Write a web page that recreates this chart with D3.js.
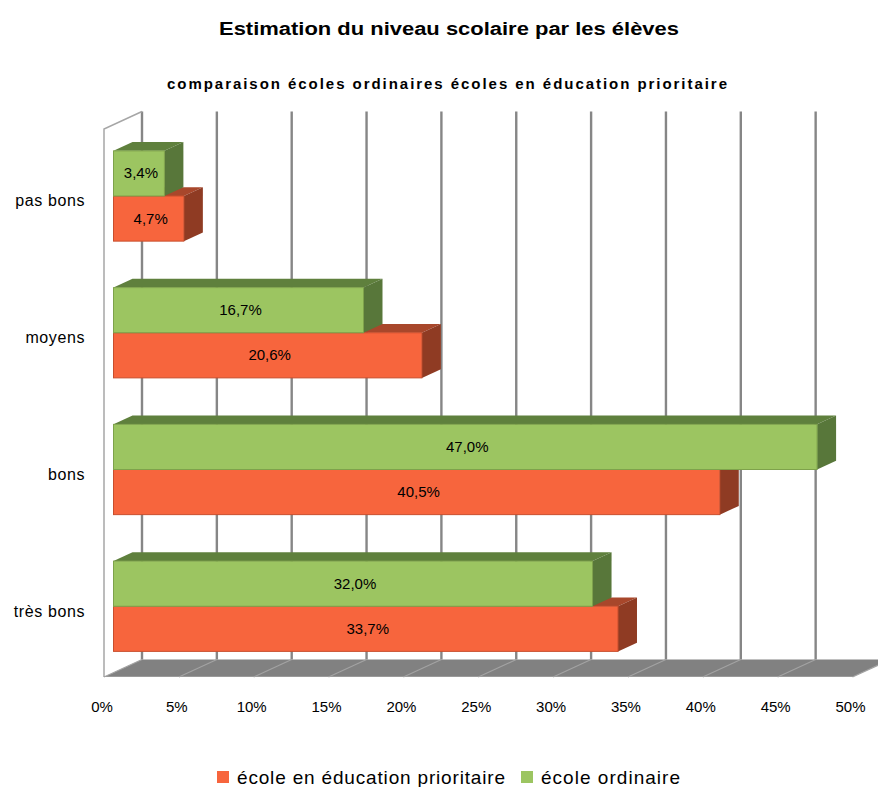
<!DOCTYPE html>
<html lang="fr">
<head>
<meta charset="utf-8">
<title>Estimation du niveau scolaire par les élèves</title>
<script src="https://cdn.jsdelivr.net/npm/d3@7"></script>
<style>
  html, body { margin: 0; padding: 0; background: #ffffff; }
  svg { display: block; font-family: "Liberation Sans", Arial, sans-serif; }
</style>
</head>
<body>
<svg id="chart" width="878" height="787"></svg>
<script>
// Categories, top to bottom
const categories = ["pas bons", "moyens", "bons", "très bons"];
// Series (percent of pupils)
const seriesNames = ["école en éducation prioritaire", "école ordinaire"];
const prioritaire = [4.7, 20.6, 40.5, 33.7];
const ordinaire = [3.4, 16.7, 47.0, 32.0];
const tickValues = [0, 5, 10, 15, 20, 25, 30, 35, 40, 45, 50];

const colors = {
  prioritaire: { front: "#f7653d", side: "#8f3b23", top: "#a8472b", edge: "#c84e2d" },
  ordinaire:   { front: "#9cc561", side: "#58773a", top: "#5f803d", edge: "#7ea24b" }
};

const svg = d3.select("#chart");

// Front plane geometry plus a depth vector for the oblique 3D look
const DX = 38, DY = -17.5;
const yTop = 129, yFloor = 677;
const x = d3.scaleLinear().domain([0, 50]).range([104, 852.5]);
const y = d3.scaleBand().domain(categories).range([132, 679])
  .paddingInner(0.34).paddingOuter(0.17);
const ySeries = d3.scaleBand().domain(["ordinaire", "prioritaire"]).range([0, y.bandwidth()]);

// Project a point (value, front-plane y, depth 0..1) to the screen
const P = (v, yy, t) => [x(v) + DX * t, yy + DY * t];
const poly = pts => "M" + pts.map(p => p.join(",")).join("L") + "Z";

// Back wall
svg.append("path")
  .attr("d", poly([P(0, yTop, 1), P(50, yTop, 1), P(50, yFloor, 1), P(0, yFloor, 1)]))
  .attr("fill", "#ffffff");

// Vertical gridlines on the back wall
svg.append("g").selectAll("line").data(tickValues).join("line")
  .attr("x1", d => P(d, yTop, 1)[0]).attr("x2", d => P(d, yFloor, 1)[0])
  .attr("y1", P(0, yTop, 1)[1]).attr("y2", P(0, yFloor, 1)[1])
  .attr("stroke", "#868686").attr("stroke-width", 2.4);

// Left side wall outline
svg.append("path")
  .attr("d", `M${P(0, yFloor, 0)}L${P(0, yTop, 0)}L${P(0, yTop, 1)}`)
  .attr("fill", "none").attr("stroke", "#a6a6a6").attr("stroke-width", 1.5);

// Floor
svg.append("path")
  .attr("d", poly([P(0, yFloor, 0), P(50, yFloor, 0), P(50, yFloor, 1), P(0, yFloor, 1)]))
  .attr("fill", "#818181");
svg.append("line")
  .attr("x1", P(0, yFloor, 0)[0]).attr("x2", P(50, yFloor, 0)[0])
  .attr("y1", yFloor - 0.5).attr("y2", yFloor - 0.5)
  .attr("stroke", "#9a9a9a").attr("stroke-width", 1);
svg.append("g").selectAll("line").data(tickValues).join("line")
  .attr("x1", d => P(d, yFloor, 0)[0]).attr("y1", d => P(d, yFloor, 0)[1])
  .attr("x2", d => P(d, yFloor, 1)[0]).attr("y2", d => P(d, yFloor, 1)[1])
  .attr("stroke", "#a3a3a3").attr("stroke-width", 1.2);

// Bars: lower series first so the upper bar overlaps its top face
const t0 = 0.25, t1 = 0.75;
const bars = [];
categories.forEach((c, i) => {
  bars.push({ cat: c, key: "prioritaire", value: prioritaire[i] });
  bars.push({ cat: c, key: "ordinaire", value: ordinaire[i] });
});

const gBars = svg.append("g");
bars.forEach(b => {
  const col = colors[b.key];
  const y0 = y(b.cat) + ySeries(b.key);
  const y1 = y0 + ySeries.bandwidth();
  const g = gBars.append("g");
  // top face
  g.append("path")
    .attr("d", poly([P(0, y0, t0), P(0, y0, t1), P(b.value, y0, t1), P(b.value, y0, t0)]))
    .attr("fill", col.top);
  // end face
  g.append("path")
    .attr("d", poly([P(b.value, y0, t0), P(b.value, y0, t1), P(b.value, y1, t1), P(b.value, y1, t0)]))
    .attr("fill", col.side);
  // front face
  const [fx0, fy0] = P(0, y0, t0);
  const [fx1, fy1] = P(b.value, y1, t0);
  g.append("rect")
    .attr("x", fx0).attr("y", fy0)
    .attr("width", fx1 - fx0).attr("height", fy1 - fy0)
    .attr("fill", col.front)
    .attr("stroke", col.edge).attr("stroke-width", 1);
  // value label
  g.append("text")
    .attr("x", (fx0 + fx1) / 2 + 2).attr("y", (fy0 + fy1) / 2 + 5)
    .attr("text-anchor", "middle")
    .attr("font-size", 15).attr("fill", "#000")
    .text(d3.format(".1f")(b.value).replace(".", ",") + "%");
});

// Category labels
svg.append("g").selectAll("text").data(categories).join("text")
  .attr("x", 85).attr("y", d => y(d) + y.bandwidth() / 2 + 6)
  .attr("text-anchor", "end").attr("font-size", 16).attr("letter-spacing", 0.6)
  .attr("fill", "#000").text(d => d);

// Value axis labels along the front edge of the floor
svg.append("g").selectAll("text").data(tickValues).join("text")
  .attr("x", d => x(d) - 2).attr("y", 712)
  .attr("text-anchor", "middle").attr("font-size", 15).attr("fill", "#000")
  .text(d => d + "%");

// Titles
svg.append("text").attr("x", 449).attr("y", 35).attr("text-anchor", "middle")
  .attr("font-size", 18).attr("font-weight", "bold")
  .attr("textLength", 460).attr("lengthAdjust", "spacingAndGlyphs")
  .text("Estimation du niveau scolaire par les élèves");
svg.append("text").attr("x", 447).attr("y", 89).attr("text-anchor", "middle")
  .attr("font-size", 15).attr("font-weight", "bold")
  .attr("textLength", 560).attr("lengthAdjust", "spacing")
  .text("comparaison écoles ordinaires écoles en éducation prioritaire");

// Legend
const legend = [
  { name: seriesNames[0], color: colors.prioritaire.front, x: 217, w: 268 },
  { name: seriesNames[1], color: colors.ordinaire.front, x: 521, w: 139 }
];
const gl = svg.append("g");
legend.forEach(l => {
  gl.append("rect").attr("x", l.x).attr("y", 771).attr("width", 12).attr("height", 12)
    .attr("fill", l.color);
  gl.append("text").attr("x", l.x + 20).attr("y", 784)
    .attr("font-size", 19).attr("fill", "#000")
    .attr("textLength", l.w).attr("lengthAdjust", "spacing")
    .text(l.name);
});
</script>
</body>
</html>
